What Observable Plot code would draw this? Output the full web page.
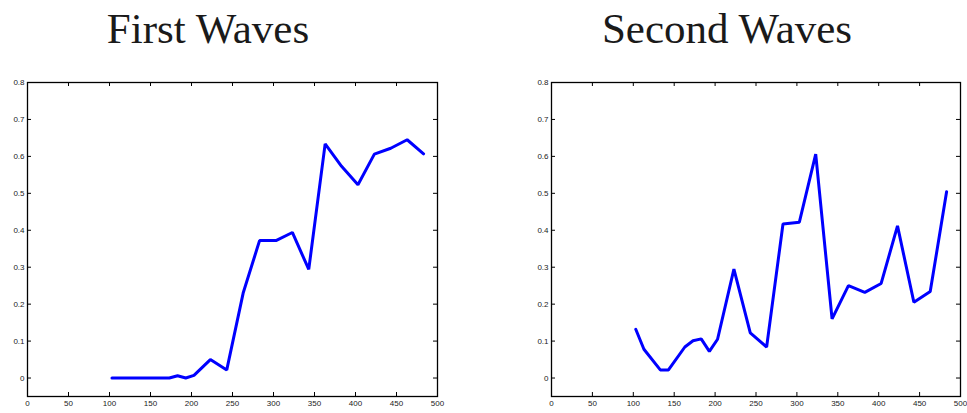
<!DOCTYPE html>
<html>
<head>
<meta charset="utf-8">
<script src="https://cdn.jsdelivr.net/npm/d3@7"></script>
<script src="https://cdn.jsdelivr.net/npm/@observablehq/plot@0.6"></script>
<style>
  html, body { margin: 0; padding: 0; background: #fff; }
  #wrap { position: relative; width: 967px; height: 413px; overflow: hidden; }
  .title { position: absolute; font-family: "Liberation Serif", "Times New Roman", serif; font-size: 43px; line-height: 43px; color: #1a1a1a; white-space: nowrap; text-align: center; width: 400px; }
  .panel { position: absolute; top: 70px; }
</style>
</head>
<body>
<div id="wrap">
  <div class="title" id="t1" style="left:8px; top:7px;"></div>
  <div class="title" id="t2" style="left:527px; top:7px;"></div>
  <div class="panel" id="p1" style="left:0px;"></div>
  <div class="panel" id="p2" style="left:500px;"></div>
</div>
<script>
const titles = ["First Waves", "Second Waves"];

const firstX = [103, 113, 123, 133, 143, 153, 163, 173, 183, 193, 203, 223, 243, 263, 283, 303, 323, 343, 363, 383, 403, 423, 443, 463, 483];
const firstY = [0, 0, 0, 0, 0, 0, 0, 0, 0.006, 0, 0.007, 0.05, 0.022, 0.23, 0.372, 0.372, 0.394, 0.294, 0.634, 0.573, 0.523, 0.606, 0.622, 0.645, 0.607];

const secondX = [103, 113, 133, 143, 163, 173, 183, 193, 203, 223, 243, 263, 283, 303, 323, 343, 363, 383, 403, 423, 443, 463, 483];
const secondY = [0.132, 0.078, 0.022, 0.022, 0.084, 0.101, 0.106, 0.072, 0.105, 0.295, 0.122, 0.084, 0.417, 0.422, 0.606, 0.160, 0.250, 0.232, 0.256, 0.412, 0.205, 0.234, 0.504];

const xTicks = [0, 50, 100, 150, 200, 250, 300, 350, 400, 450, 500];
const yTicks = [0, 0.1, 0.2, 0.3, 0.4, 0.5, 0.6, 0.7, 0.8];
const xDomain = [0, 500];
const yDomain = [-0.05, 0.8];

function makePanel(xs, ys, width, marginLeft, marginRight) {
  const height = 343, marginTop = 12, marginBottom = 17;
  const innerW = width - marginLeft - marginRight;
  const innerH = height - marginTop - marginBottom;
  const tick = 4;
  const data = xs.map((x, i) => ({x, y: ys[i]}));
  return Plot.plot({
    width, height, marginLeft, marginRight, marginTop, marginBottom,
    style: {fontFamily: "'Liberation Sans', Arial, sans-serif", fontSize: "8px", color: "#222", background: "#fff", overflow: "visible"},
    x: {domain: xDomain, ticks: xTicks, label: null},
    y: {domain: yDomain, ticks: yTicks, label: null},
    marks: [
      Plot.axisX(xTicks, {anchor: "bottom", tickSize: 0, tickPadding: 4, fill: "#222", label: null, tickFormat: d => String(d)}),
      Plot.axisY(yTicks, {anchor: "left", tickSize: 0, tickPadding: 3, fill: "#222", label: null, tickFormat: d => String(d)}),
      Plot.tickX(xTicks, {x: d => d, insetTop: innerH - tick, stroke: "#000", strokeWidth: 1}),
      Plot.tickX(xTicks, {x: d => d, insetBottom: innerH - tick, stroke: "#000", strokeWidth: 1}),
      Plot.tickY(yTicks, {y: d => d, insetRight: innerW - tick, stroke: "#000", strokeWidth: 1}),
      Plot.tickY(yTicks, {y: d => d, insetLeft: innerW - tick, stroke: "#000", strokeWidth: 1}),
      Plot.frame({stroke: "#000", strokeWidth: 1.3}),
      Plot.line(data, {x: "x", y: "y", stroke: "#0000ff", strokeWidth: 3, strokeLinejoin: "miter"})
    ]
  });
}

document.getElementById("t1").textContent = titles[0];
document.getElementById("t2").textContent = titles[1];
document.getElementById("p1").appendChild(makePanel(firstX, firstY, 450, 27, 13));
document.getElementById("p2").appendChild(makePanel(secondX, secondY, 467, 51, 7));
</script>
</body>
</html>
